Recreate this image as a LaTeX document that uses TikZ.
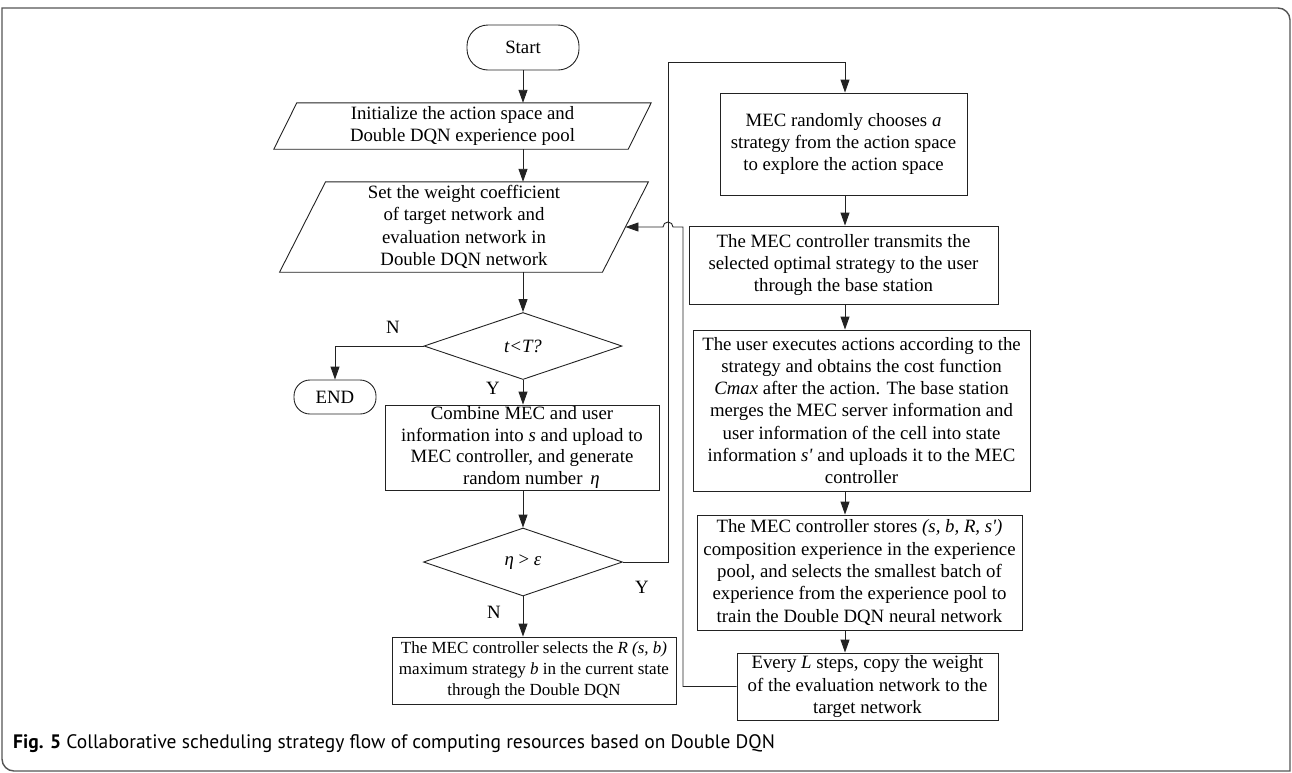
\documentclass[tikz,border=0pt]{standalone}
\usepackage{fontspec}
\setmainfont{Liberation Serif}[Ligatures=TeXOff]
\newfontfamily\capfont{PT Sans}
\usetikzlibrary{shapes.geometric,arrows.meta}
\definecolor{linec}{HTML}{222222}
\definecolor{framec}{HTML}{555555}

\tikzset{
  flow/.style={draw=linec, line width=0.9pt},
  txt/.style={font=\fontsize{18.8}{22.3}\selectfont, align=center, inner sep=0pt},
  proc/.style={flow, txt, rectangle},
  iobox/.style={txt, rectangle},
  term/.style={flow, txt, rectangle},
  dec/.style={flow, txt, diamond},
  arr/.style={flow, -{Triangle[length=13pt,width=9pt]}},
  lab/.style={font=\fontsize{18.8}{22}\selectfont, inner sep=0pt}
}

\begin{document}
\begin{tikzpicture}[x=1pt,y=-1pt]
\useasboundingbox (0,0) rectangle (1292,772);

% outer frame
\draw[framec, line width=1.4pt] (2,8) -- (1278,8) arc[start angle=90,end angle=0,radius=12pt]
  -- (1290,771) -- (14,771) arc[start angle=270,end angle=180,radius=12pt] -- cycle;

% left column
\node[term, rounded corners=21pt, minimum width=112pt, minimum height=45pt] (start) at (523,47.5) {Start};

\node[iobox, minimum width=354pt, minimum height=46pt] (init) at (462.5,126)
  {Initialize the action space and\\Double DQN experience pool};
\draw[flow] ([xshift=-11.5pt]init.south west) -- ([xshift=11.5pt]init.north west)
  -- ([xshift=11.5pt]init.north east) -- ([xshift=-11.5pt]init.south east) -- cycle;

\node[iobox, minimum width=322.5pt, minimum height=90pt] (setw) at (464,227)
  {Set the weight coefficient\\of target network and\\evaluation network in\\Double DQN network};
\draw[flow] ([xshift=-23pt]setw.south west) -- ([xshift=23pt]setw.north west)
  -- ([xshift=23pt]setw.north east) -- ([xshift=-23pt]setw.south east) -- cycle;

\node[dec, minimum width=198pt, minimum height=67pt] (tT) at (523,346) {\itshape t<T?};
\node[term, rounded corners=16pt, minimum width=82pt, minimum height=34pt] (endn) at (335,397) {END};

\node[proc, minimum width=274pt, minimum height=85pt, font=\fontsize{18.8}{21.7}\selectfont] (comb) at (522,447.5)
  {Combine MEC and user\\information into \textit{s} and upload to\\MEC controller, and generate\\\quad random number \,\textit{η}};

\node[dec, minimum width=199pt, minimum height=68pt] (eta) at (523,562) {\textit{η} > \textit{ε}};

\node[proc, minimum width=284pt, minimum height=67pt, font=\fontsize{17}{21}\selectfont] (sel) at (534,670.5)
  {The MEC controller selects the \textit{R (s, b)}\\maximum strategy \textit{b} in the current state\\through the Double DQN};

% right column
\node[proc, minimum width=247pt, minimum height=102pt] (b1) at (843.5,144)
  {MEC randomly chooses \textit{a}\\strategy from the action space\\to explore the action space};
\node[proc, minimum width=309pt, minimum height=78pt] (b2) at (843.5,265)
  {The MEC controller transmits the\\selected optimal strategy to the user\\through the base station};
\node[proc, minimum width=337pt, minimum height=161pt] (b3) at (861.5,410.5)
  {The user executes actions according to the\\strategy and obtains the cost function\\\textit{Cmax} after the action. The base station\\merges the MEC server information and\\user information of the cell into state\\information \textit{s'} and uploads it to the MEC\\controller};
\node[proc, minimum width=325pt, minimum height=115pt] (b4) at (859.5,572.5)
  {The MEC controller stores \textit{(s, b, R, s')}\\composition experience in the experience\\pool, and selects the smallest batch of\\experience from the experience pool to\\train the Double DQN neural network};
\node[proc, minimum width=261pt, minimum height=67pt] (b5) at (867.5,686.5)
  {Every \textit{L} steps, copy the weight\\of the evaluation network to the\\target network};

\coordinate (col) at (845,0);
\coordinate (loopA) at (668,0);
\coordinate (loopB) at (683,0);

% main flow
\draw[arr] (start.south) -- (start.south |- init.north);
\draw[arr] (start.south |- init.south) -- (start.south |- setw.north);
\draw[arr] (start.south |- setw.south) -- (tT.north);
\draw[arr] (tT.west) -- (tT.west -| endn.north) -- (endn.north);
\draw[arr] (tT.south) -- (tT.south |- comb.north);
\draw[arr] (tT.south |- comb.south) -- (eta.north);
\draw[arr] (eta.south) -- (eta.south |- sel.north);

% right column flow
\draw[arr] (b1.south -| col) -- (b2.north -| col);
\draw[arr] (b2.south -| col) -- (b3.north -| col);
\draw[arr] (b3.south -| col) -- (b4.north -| col);
\draw[arr] (b4.south -| col) -- (b5.north -| col);

% exploration branch
\coordinate (topturn) at (668,62);
\draw[arr] (eta.east) -- (eta.east -| loopA) -- (topturn) -- (topturn -| col) -- (b1.north -| col);

% return to the weight setting, hopping over the exploration line
\coordinate (rt) at (683,227);
\draw[arr] (b5.west) -- (b5.west -| loopB) -- (rt) -- (673,227)
  arc[start angle=0,end angle=180,radius=5pt] -- (setw.east);

% branch labels
\node[lab] (lN1) at (393,327) {N};
\node[lab] (lY1) at (493,388) {Y};
\node[lab] (lY2) at (642,587) {Y};
\node[lab] (lN2) at (494,612) {N};

% caption
\node[anchor=west, inner sep=0pt, font=\capfont\fontsize{19.5}{20}\selectfont] (cap) at (13,744)
  {\textbf{Fig. 5} Collaborative scheduling strategy flow of computing resources based on Double DQN};
\end{tikzpicture}
\end{document}
